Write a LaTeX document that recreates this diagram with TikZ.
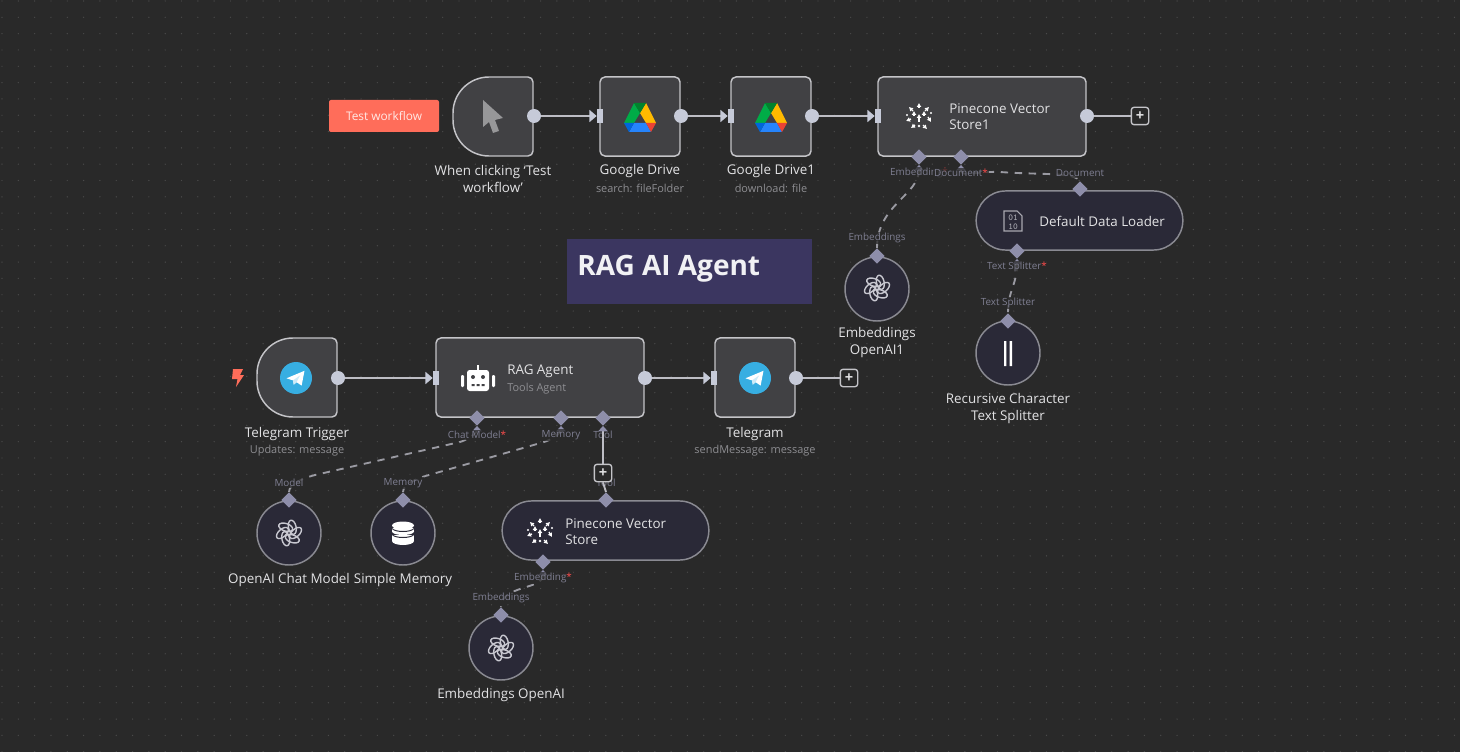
\documentclass[tikz,border=0pt]{standalone}
\usepackage{fontspec}
\setmainfont{Open Sans}
\usetikzlibrary{arrows.meta,shapes.geometric,calc}
\definecolor{bg}{HTML}{292929}
\definecolor{griddot}{HTML}{4A4A4A}
\definecolor{boxfill}{HTML}{414144}
\definecolor{boxline}{HTML}{C4C4C8}
\definecolor{pillfill}{HTML}{2A2937}
\definecolor{pillline}{HTML}{8A8A92}
\definecolor{portlight}{HTML}{C6CAD8}
\definecolor{portdark}{HTML}{8E8EAA}
\definecolor{wire}{HTML}{BDBDC4}
\definecolor{dashwire}{HTML}{9A9AA2}
\definecolor{maintext}{HTML}{E2E2E4}
\definecolor{subtext}{HTML}{8E8E92}
\definecolor{porttext}{HTML}{7F7F92}
\definecolor{coral}{HTML}{FF6D5A}
\definecolor{banner}{HTML}{3B3660}
\definecolor{cursorgray}{HTML}{979799}
\definecolor{fileicon}{HTML}{A8A8B0}
\definecolor{iconsoft}{HTML}{C8C8D0}
\definecolor{tgblue}{HTML}{37AEE2}
\definecolor{gA}{HTML}{00AC47}\definecolor{gB}{HTML}{FFBA00}\definecolor{gC}{HTML}{00832D}
\definecolor{gD}{HTML}{2684FC}\definecolor{gE}{HTML}{0066DA}\definecolor{gF}{HTML}{EA4335}
\tikzset{
  x=0.75pt,y=-0.75pt,
  flowbox/.style={draw=boxline,line width=1.1pt,fill=boxfill,rounded corners=3.75pt,inner sep=0pt},
  pillbox/.style={draw=pillline,line width=1.1pt,fill=pillfill,rounded corners=22.1pt,minimum width=155pt,minimum height=44.3pt,inner sep=0pt},
  roundbox/.style={circle,draw=pillline,line width=1.1pt,fill=pillfill,minimum size=48pt,inner sep=0pt},
  outport/.style={circle,fill=portlight,minimum size=10.5pt,inner sep=0pt},
  inport/.style={rectangle,fill=portlight,minimum width=4.5pt,minimum height=10pt,inner sep=0pt},
  subport/.style={diamond,aspect=1,fill=portdark,minimum size=11.5pt,inner sep=0pt},
  flowwire/.style={draw=wire,line width=1.4pt,-{Triangle[length=5.5pt,width=9pt,fill=portlight,color=portlight]}},
  plainwire/.style={draw=wire,line width=1.4pt},
  dashedwire/.style={draw=dashwire,line width=1.4pt,dash pattern=on 5.5pt off 5pt},
  uptip/.style={{Triangle[length=4pt,width=7pt,fill=portdark,color=portdark]}-},
  toptext/.style={text=maintext,font=\fontsize{10.05}{12.2}\selectfont,align=center,inner sep=0pt,yshift=-0.3pt},
  subtitle/.style={text=subtext,font=\fontsize{8.2}{10}\selectfont,inner sep=0pt,yshift=-0.6pt},
  portlabel/.style={text=porttext,font=\fontsize{7.4}{9}\selectfont,inner sep=1pt,fill=bg,fill opacity=.75,text opacity=1,yshift=-0.6pt},
  plusbox/.style={draw=boxline,line width=1pt,fill=bg,rounded corners=2pt,minimum size=13pt,inner sep=0pt,text=maintext,font=\bfseries\fontsize{11}{11}\selectfont},
}
\newcommand{\trigbox}[3]{%
  \path[flowbox] ({#2+40},{#3}) [rounded corners=3.75pt] -- ({#2+40},{#3+39.5}) [rounded corners=27pt] -- ({#2-40},{#3+39.5}) -- ({#2-40},{#3-39.5}) [rounded corners=3.75pt] -- ({#2+40},{#3-39.5}) -- cycle;
  \node[minimum width=60pt,minimum height=59pt,inner sep=0pt] (#1) at (#2,#3) {};}
\newcommand{\gdriveicon}[2]{\begin{scope}[shift={(#1,#2)}]
  \fill[gA] (-6,-14)--(0,-4)--(-6,6)--(-16,6)--cycle;
  \fill[gB] (6,-14)--(16,6)--(6,6)--(0,-4)--cycle;
  \fill[gC] (-6,-14)--(6,-14)--(0,-4)--cycle;
  \fill[gD] (-6,6)--(6,6)--(11,15)--(-11,15)--cycle;
  \fill[gE] (-16,6)--(-6,6)--(-11,15)--cycle;
  \fill[gF] (16,6)--(6,6)--(11,15)--cycle;
\end{scope}}
\newcommand{\telegramicon}[2]{\begin{scope}[shift={(#1,#2)}]
  \fill[tgblue] (0,0) circle (16);
  \fill[white] (-9.5,0.3)--(8.5,-7.2)--(5.6,7.6)--(0.6,4.2)--(-2.2,6.6)--(-3,2.4)--cycle;
  \fill[tgblue!25!white] (-3,2.4)--(4,-2.5)--(0.6,4.2)--(-2.2,6.6)--cycle;
\end{scope}}
\newcommand{\openaiicon}[2]{\begin{scope}[shift={(#1,#2)}]
  \foreach \a in {0,60,...,300}{
    \draw[draw=iconsoft,line width=1.05pt,rotate=\a,shift={(6.6,0)},rotate=42] (0,0) ellipse [x radius=7.2,y radius=3.8];}
\end{scope}}
\newcommand{\pineconeicon}[2]{\begin{scope}[shift={(#1,#2)},arr/.style={white,line width=1pt,-{Latex[length=3pt,width=3.8pt]}}]
  \foreach \p/\q/\r/\s in {0/-8/0/-13,-6/-5/-10/-9,6/-5/10/-9,-8/3/-13/5,9/1/12/6,4/9/8/13,-4/9/-8/12,0/6/0/-2,-5/0/-5/-5,5/0/5/-5}{
    \draw[arr] (\p,\q) -- (\r,\s);}
  \fill[white] (0,10) circle (1.3) (-12,-1) circle (1.1) (12,-3) circle (1.1);
\end{scope}}
\begin{document}
\begin{tikzpicture}
\useasboundingbox (0,0) rectangle (1460,752);
\fill[bg] (0,0) rectangle (1460,752);
\foreach \i in {0,...,89}{\foreach \j in {0,...,46}{
  \fill[griddot] ({2+16.32*\i},{1+16.32*\j}) circle (0.7);}}

% banner
\fill[banner] (567,239) rectangle (812,304);
\node[anchor=west,text=white!93!banner,inner sep=0pt,font=\bfseries\fontsize{21}{26}\selectfont] (title) at (577,269) {RAG AI Agent};

% test button
\node[fill=coral,rounded corners=1.5pt,minimum width=82.5pt,minimum height=24pt,inner sep=0pt,text=white!85!coral,font=\fontsize{8.9}{10}\selectfont] (testbtn) at (384,116) {Test workflow};

% main boxes
\trigbox{click}{493}{116.5}
\node[flowbox,minimum width=60pt,minimum height=59.3pt] (drive) at (640,116.5) {};
\node[flowbox,minimum width=60pt,minimum height=59.3pt] (driveb) at (771,116.5) {};
\node[flowbox,minimum width=156pt,minimum height=59.3pt] (pinea) at (982,116.5) {};
\trigbox{tgtrig}{297}{377.5}
\node[flowbox,minimum width=156pt,minimum height=59.3pt] (agent) at (540,377.5) {};
\node[flowbox,minimum width=60pt,minimum height=59.3pt] (tgsend) at (755,377.5) {};
\node[pillbox] (loader) at (1079.5,220.5) {};
\node[pillbox] (pineb) at (605.5,530.5) {};
\node[roundbox] (embb) at (877,289) {};
\node[roundbox] (split) at (1008,353) {};
\node[roundbox] (chat) at (289,533) {};
\node[roundbox] (mem) at (403,533) {};
\node[roundbox] (emba) at (501,648) {};

% output and input ports
\node[outport] (o1) at (534,116) {};
\node[inport] (i2) at (600,116) {};
\node[outport] (o2) at (681,116) {};
\node[inport] (i3) at (731,116) {};
\node[outport] (o3) at (812,116) {};
\node[inport] (i4) at (878,116) {};
\node[outport] (o4) at (1087,116) {};
\node[outport] (o5) at (338,378) {};
\node[inport] (i6) at (436,378) {};
\node[outport] (o6) at (645,378) {};
\node[inport] (i7) at (714,378) {};
\node[outport] (o7) at (796,378) {};
% sub ports
\node[subport] (pembed) at (919,157) {};
\node[subport] (pdoc) at (961,157) {};
\node[subport] (ldoc) at (1080,189) {};
\node[subport] (lsplit) at (1017,251) {};
\node[subport] (eembed) at (877,256) {};
\node[subport] (ssplit) at (1008,321) {};
\node[subport] (pchat) at (477,418) {};
\node[subport] (pmem) at (561,418) {};
\node[subport] (ptool) at (603,418) {};
\node[subport] (cmodel) at (289,500) {};
\node[subport] (mmem) at (403,500) {};
\node[subport] (ttool) at (606,500) {};
\node[subport] (tembed) at (543,562) {};
\node[subport] (aembed) at (501,615) {};

% flow connectors
\draw[flowwire] (o1) -- (i2);
\draw[flowwire] (o2) -- (i3);
\draw[flowwire] (o3) -- (i4);
\draw[flowwire] (o5) -- (i6);
\draw[flowwire] (o6) -- (i7);

% sub connectors
\draw[dashedwire,uptip] (pembed.south) .. controls (919,195) and (877,205) .. (eembed.north);
\draw[dashedwire,uptip] (pdoc.south) .. controls (961,178) and (975,171) .. (1000,172) .. controls (1040,175) and (1075,172) .. (ldoc.north);
\draw[dashedwire,uptip] (lsplit.south) .. controls (1017,285) and (1008,290) .. (ssplit.north);
\draw[dashedwire,uptip] (pchat.south) .. controls (477,432) and (470,439) .. (460,442) -- (315,475) .. controls (300,479) and (289,485) .. (cmodel.north);
\draw[dashedwire,uptip] (pmem.south) .. controls (561,432) and (554,439) .. (544,442) -- (429,475) .. controls (414,479) and (403,485) .. (mmem.north);
\draw[dashedwire,uptip] (tembed.south) .. controls (543,590) and (501,585) .. (aembed.north);

% port labels
\node[portlabel] (lb1) at (919,172) {Embedding\textcolor{red!70!white}{*}};
\node[portlabel] (lb2) at (961,172) {Document\textcolor{red!70!white}{*}};
\node[portlabel] (lb3) at (1080,172) {Document};
\node[portlabel] (lb4) at (877,237) {Embeddings};
\node[portlabel] (lb5) at (1017,266) {Text Splitter\textcolor{red!70!white}{*}};
\node[portlabel] (lb6) at (1008,302) {Text Splitter};
\node[portlabel] (lb7) at (477,434) {Chat Model\textcolor{red!70!white}{*}};
\node[portlabel] (lb8) at (561,434) {Memory};
\node[portlabel] (lb9) at (603,434) {Tool};
\node[portlabel] (lb10) at (289,482) {Model};
\node[portlabel] (lb11) at (403,482) {Memory};
\node[portlabel] (lb12) at (606,482) {Tool};
\node[portlabel] (lb13) at (543,577) {Embedding\textcolor{red!70!white}{*}};
\node[portlabel] (lb14) at (501,597) {Embeddings};

% plus boxes
\node[plusbox] (plusc) at (603,473) {+};
\node[plusbox] (plusa) at (1140,116) {+};
\node[plusbox] (plusb) at (849,378) {+};
\draw[plainwire,uptip] (ptool.south) -- (plusc.north);
\draw[plainwire] (plusc.south) -- (ttool.north);
\draw[plainwire] (o4) -- (plusa);
\draw[plainwire] (o7) -- (plusb);

% icons
\fill[cursorgray] (483,100)--(503,118)--(495,120)--(499,131)--(493,133)--(489,122)--(483,127)--cycle;
\gdriveicon{640}{117}
\gdriveicon{771}{117}
\pineconeicon{919}{116}
\pineconeicon{540}{531}
\telegramicon{296}{378}
\telegramicon{755}{378}
\openaiicon{877}{288}
\openaiicon{289}{533}
\openaiicon{501}{648}
% robot
\begin{scope}[shift={(478,378)}]
  \fill[white,rounded corners=2pt] (-11,-8) rectangle (11,13);
  \fill[white,rounded corners=.8pt] (-17,-3) rectangle (-14,9);
  \fill[white,rounded corners=.8pt] (14,-3) rectangle (17,9);
  \fill[white] (-1.2,-13) rectangle (1.2,-8);
  \fill[boxfill] (-5,-1) circle (2) (5,-1) circle (2);
  \fill[boxfill] (-6.5,6) rectangle (-3.5,8) (-1.5,6) rectangle (1.5,8) (3.5,6) rectangle (6.5,8);
\end{scope}
% database
\begin{scope}[shift={(403,533)}]
  \fill[white] (0,-7.5) ellipse [x radius=11,y radius=4];
  \fill[white] (-11,-5) rectangle (11,-1.5);
  \fill[white] (0,-1.5) ellipse [x radius=11,y radius=3.5];
  \fill[pillfill] (-11,-5) .. controls (-8,-1) and (8,-1) .. (11,-5) -- (11,-4) .. controls (8,0) and (-8,0) .. (-11,-4) -- cycle;
  \fill[white] (-11,2) rectangle (11,8);
  \fill[white] (0,8) ellipse [x radius=11,y radius=4];
  \fill[pillfill] (-11,2) .. controls (-8,6) and (8,6) .. (11,2) -- (11,1) .. controls (8,5) and (-8,5) .. (-11,1) -- cycle;
\end{scope}
% file icon
\begin{scope}[shift={(1013,221)}]
  \draw[draw=fileicon,line width=.8pt] (-9,-10) -- (4,-10) -- (9,-5) -- (9,10) -- (-9,10) -- cycle;
  \node[text=fileicon,inner sep=0pt,align=center,font=\ttfamily\bfseries\fontsize{6.8}{7}\selectfont] (filetxt) at (0,1) {01\\10};
\end{scope}
% splitter icon
\fill[white] (1004,341) rectangle (1006.4,366) (1009.6,341) rectangle (1012,366);
% lightning
\fill[coral] (233,369)--(243,369)--(240,375)--(244,375)--(236,387)--(237.5,379)--(232,379)--cycle;

% main labels
\node[toptext] (tclick) at (493,178.5) {When clicking ‘Test\\workflow’};
\node[toptext] (tdrive) at (640,171) {Google Drive};
\node[subtitle] (sdrive) at (640,188) {search: fileFolder};
\node[toptext] (tdriveb) at (771,171) {Google Drive1};
\node[subtitle] (sdriveb) at (771,188) {download: file};
\node[toptext,anchor=west,align=left] (tpinea) at (949,116) {Pinecone Vector\\Store1};
\node[toptext,anchor=west] (tloader) at (1039,221) {Default Data Loader};
\node[toptext] (tembb) at (877,342) {Embeddings\\OpenAI1};
\node[toptext] (tsplit) at (1008,408) {Recursive Character\\Text Splitter};
\node[toptext] (ttgtrig) at (297,434) {Telegram Trigger};
\node[subtitle] (stgtrig) at (297,450) {Updates: message};
\node[toptext,anchor=west] (tagent) at (507,370.5) {RAG Agent};
\node[subtitle,anchor=west] (sagent) at (507,388) {Tools Agent};
\node[toptext] (ttgsend) at (755,434) {Telegram};
\node[subtitle] (stgsend) at (755,450) {sendMessage: message};
\node[toptext] (tchat) at (289,580) {OpenAI Chat Model};
\node[toptext] (tmem) at (403,580) {Simple Memory};
\node[toptext,anchor=west,align=left] (tpineb) at (565,531) {Pinecone Vector\\Store};
\node[toptext] (temba) at (501,695) {Embeddings OpenAI};
\end{tikzpicture}
\end{document}
